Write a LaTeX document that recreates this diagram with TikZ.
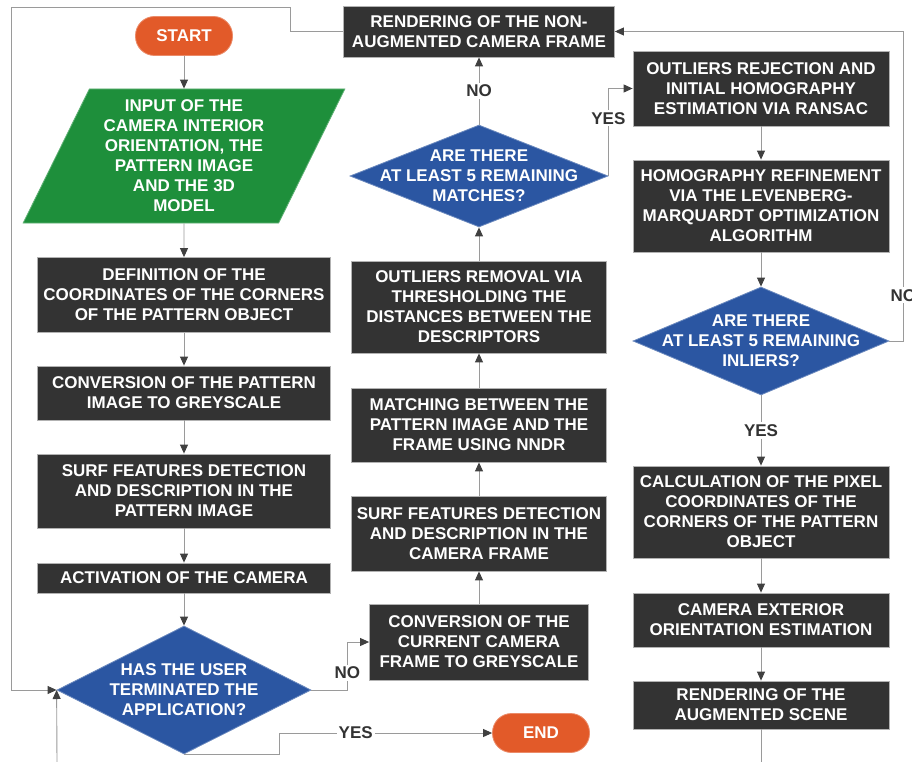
\documentclass[tikz,border=0pt]{standalone}
\usepackage{fontspec}
\setmainfont{Liberation Sans}
\usetikzlibrary{shapes.geometric,arrows.meta}

\definecolor{boxgrey}{HTML}{333333}
\definecolor{startorange}{HTML}{E25A29}
\definecolor{inputgreen}{HTML}{1E8F3B}
\definecolor{askblue}{HTML}{2B56A2}
\definecolor{linegrey}{HTML}{9A9A9A}
\definecolor{tipgrey}{HTML}{404040}

\tikzset{
  every node/.style={font=\fontsize{17}{20}\selectfont\bfseries, inner sep=0pt},
  process/.style={rectangle, fill=boxgrey, draw=gray!60, line width=0.8pt, text=white, align=center},
  terminal/.style={rectangle, rounded corners=19pt, fill=startorange, draw=startorange!70!white,
    line width=0.8pt, text=white, minimum width=97pt, minimum height=39pt},
  inputbox/.style={trapezium, trapezium left angle=63.4, trapezium right angle=116.6,
    trapezium stretches=true, fill=inputgreen, draw=inputgreen!70!white, line width=0.8pt,
    text=white, align=center, minimum width=322pt, minimum height=134pt},
  decision/.style={diamond, fill=askblue, draw=askblue!70!white, line width=0.8pt},
  asktext/.style={text=white, align=center},
  answer/.style={fill=white, text=boxgrey, inner sep=2pt},
  flow/.style={draw=linegrey, line width=0.9pt, -{Triangle[length=9pt,width=8pt,color=tipgrey]}},
  rail/.style={draw=linegrey, line width=0.9pt}
}

\begin{document}
\begin{tikzpicture}[x=1pt,y=-1pt]
\useasboundingbox (0,0) rectangle (912,762);
% left column
\node[terminal] (start) at (184,36) {START};
\node[inputbox] (inp) at (184,156) {INPUT OF THE\\CAMERA INTERIOR\\ORIENTATION, THE\\PATTERN IMAGE\\AND THE 3D\\MODEL};
\node[process, minimum width=293pt, minimum height=75pt] (corners) at (184,295) {DEFINITION OF THE\\COORDINATES OF THE CORNERS\\OF THE PATTERN OBJECT};
\node[process, minimum width=293pt, minimum height=54pt] (grey1) at (184,393) {CONVERSION OF THE PATTERN\\IMAGE TO GREYSCALE};
\node[process, minimum width=293pt, minimum height=74pt] (surf1) at (184,491) {SURF FEATURES DETECTION\\AND DESCRIPTION IN THE\\PATTERN IMAGE};
\node[process, minimum width=293pt, minimum height=30pt] (camon) at (184,578) {ACTIVATION OF THE CAMERA};
\node[decision, minimum width=254pt, minimum height=128pt,
  label={[asktext]center:{HAS THE USER\\TERMINATED THE\\APPLICATION?}}] (quit) at (184,690) {};
\node[terminal] (end) at (541,733) {END};
% middle column
\node[process, minimum width=271pt, minimum height=51pt] (plain) at (479,31.5) {RENDERING OF THE NON-\\AUGMENTED CAMERA FRAME};
\node[decision, minimum width=258pt, minimum height=102pt,
  label={[asktext]center:{ARE THERE\\AT LEAST 5 REMAINING\\MATCHES?}}] (enough) at (479,176) {};
\node[process, minimum width=255pt, minimum height=92pt] (thresh) at (479,307) {OUTLIERS REMOVAL VIA\\THRESHOLDING THE\\DISTANCES BETWEEN THE\\DESCRIPTORS};
\node[process, minimum width=255pt, minimum height=74pt] (nndr) at (479,425) {MATCHING BETWEEN THE\\PATTERN IMAGE AND THE\\FRAME USING NNDR};
\node[process, minimum width=255pt, minimum height=75pt] (surf2) at (479,533.5) {SURF FEATURES DETECTION\\AND DESCRIPTION IN THE\\CAMERA FRAME};
\node[process, minimum width=219pt, minimum height=76pt] (grey2) at (479,642) {CONVERSION OF THE\\CURRENT CAMERA\\FRAME TO GREYSCALE};
% right column
\node[process, minimum width=256pt, minimum height=75pt] (ransac) at (761,88.5) {OUTLIERS REJECTION AND\\INITIAL HOMOGRAPHY\\ESTIMATION VIA RANSAC};
\node[process, minimum width=256pt, minimum height=92pt] (lm) at (761,206) {HOMOGRAPHY REFINEMENT\\VIA THE LEVENBERG-\\MARQUARDT OPTIMIZATION\\ALGORITHM};
\node[decision, minimum width=256pt, minimum height=108pt,
  label={[asktext]center:{ARE THERE\\AT LEAST 5 REMAINING\\INLIERS?}}] (inliers) at (761,341) {};
\node[process, minimum width=256pt, minimum height=92pt] (pixel) at (761,512) {CALCULATION OF THE PIXEL\\COORDINATES OF THE\\CORNERS OF THE PATTERN\\OBJECT};
\node[process, minimum width=256pt, minimum height=54pt] (pose) at (761,620) {CAMERA EXTERIOR\\ORIENTATION ESTIMATION};
\node[process, minimum width=256pt, minimum height=48pt] (augm) at (761,705) {RENDERING OF THE\\AUGMENTED SCENE};
% free ends of the loops
\coordinate (leftrail) at (11,7);
\coordinate (backin) at (57,762);
\coordinate (offbottom) at (761,762);
% connectors
\draw[flow] (start) -- (inp);
\draw[flow] (inp) -- (corners);
\draw[flow] (corners) -- (grey1);
\draw[flow] (grey1) -- (surf1);
\draw[flow] (surf1) -- (camon);
\draw[flow] (camon) -- (quit);
\draw[flow] (quit.east) -- ++(36,0) |- node[answer, pos=0.18] {NO} (grey2.west);
\draw[flow] (quit.south) -- ++(95,0) |- node[answer, pos=0.68] {YES} (end.west);
\draw[flow] (grey2) -- (surf2);
\draw[flow] (surf2) -- (nndr);
\draw[flow] (nndr) -- (thresh);
\draw[flow] (thresh) -- (enough);
\draw[flow] (enough) -- node[answer] {NO} (plain);
\draw[flow] (enough.east) |- node[answer, pos=0.33] {YES} (ransac.west);
\draw[flow] (ransac) -- (lm);
\draw[flow] (lm) -- (inliers);
\draw[flow] (inliers) -- node[answer] {YES} (pixel);
\draw[flow] (pixel) -- (pose);
\draw[flow] (pose) -- (augm);
\draw[rail] (augm) -- (offbottom);
\draw[flow] (inliers.east) -- ++(14,0) |- node[answer, pos=0.074] {NO} (plain.east);
\draw[flow] (plain.west) -- ++(-53,0) |- (leftrail) |- (quit.west);
\draw[flow] (backin) -- (quit.west);
\end{tikzpicture}
\end{document}
